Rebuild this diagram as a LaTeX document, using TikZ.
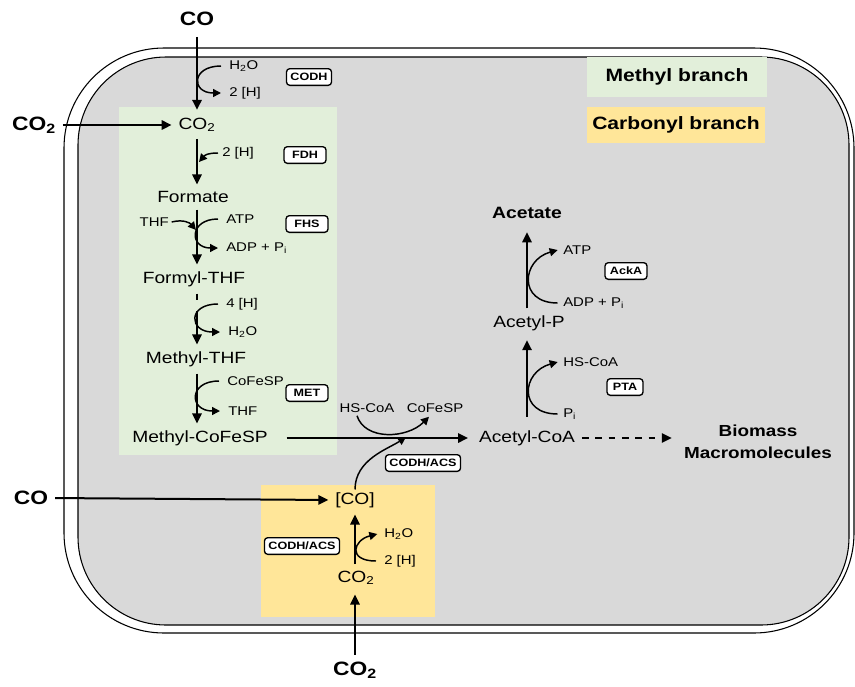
\documentclass[tikz,border=0pt]{standalone}
\usepackage{fontspec}
\setmainfont{Liberation Sans}[FakeStretch=1.18]
\usetikzlibrary{arrows.meta}

\definecolor{cellgray}{RGB}{217,217,217}
\definecolor{methylgreen}{RGB}{226,239,218}
\definecolor{carbonylyellow}{RGB}{255,230,153}

\begin{document}
\begin{tikzpicture}[x=0.75pt,y=-0.75pt,
  met/.style={font=\fontsize{12.2}{14}\selectfont, inner sep=2pt},
  cof/.style={font=\fontsize{9.5}{11}\selectfont, inner sep=0pt, anchor=west},
  ext/.style={font=\bfseries\fontsize{14.5}{17}\selectfont, inner sep=2pt},
  enz/.style={draw, line width=1pt, rounded corners=2.5pt, fill=white,
    font=\bfseries\fontsize{8}{9}\selectfont, minimum width=31.5pt,
    minimum height=12.5pt, inner xsep=3pt, inner ysep=1pt},
  legend/.style={font=\bfseries\fontsize{13.4}{16}\selectfont, inner sep=0pt},
  flux/.style={line width=1.5pt, -{Triangle[length=7.5pt,width=7pt]},
    shorten >=3pt, shorten <=3pt},
  side/.style={line width=1.1pt, -{Triangle[length=6pt,width=6pt]}}
]
\useasboundingbox (0,0) rectangle (855,686);

% cell wall and cytoplasm
\draw[line width=0.8pt, rounded corners=75pt] (64,48) rectangle (854,633);
\draw[line width=0.8pt, rounded corners=66pt, fill=cellgray] (78,57) rectangle (849,625);

% branch areas
\fill[methylgreen] (119,107) rectangle (337,455);
\fill[carbonylyellow] (261,485) rectangle (435,617);

% legend
\node[legend, fill=methylgreen, minimum width=135pt, minimum height=30pt] (lgmethyl) at (677,77) {Methyl branch};
\node[legend, fill=carbonylyellow, minimum width=134pt, minimum height=27pt] (lgcarbonyl) at (676,125) {Carbonyl branch};

% axes of the three pathways
\coordinate (axisM) at (197,0);
\coordinate (axisC) at (355,0);
\coordinate (axisA) at (527,0);

% substrates from outside
\node[ext] (coT) at (197,19) {CO};
\node[ext] (co2L) at (34,125) {CO\textsubscript{2}};
\node[ext] (coL) at (31,498) {CO};
\node[ext] (co2B) at (355,670) {CO\textsubscript{2}};

% methyl branch
\node[met] (co2a) at (197,125) {CO\textsubscript{2}};
\node[met] (formate) at (193,197) {Formate};
\node[met] (formyl) at (194,279) {Formyl-THF};
\node[met] (methylthf) at (196,359) {Methyl-THF};
\node[met] (methylco) at (200,438) {Methyl-CoFeSP};

% carbonyl branch
\node[met] (coC) at (355,500) {[CO]};
\node[met] (co2b) at (356,578) {CO\textsubscript{2}};

% acetate side
\node[met] (acoa) at (527,438) {Acetyl-CoA};
\node[met] (acp) at (529,323) {Acetyl-P};
\node[met, font=\bfseries\fontsize{12.3}{14}\selectfont] (acetate) at (527,213) {Acetate};
\node[met, font=\bfseries\fontsize{12}{16.5}\selectfont, align=center] (biomass) at (758,442) {Biomass\\Macromolecules};

% cofactors
\node[cof] (h2oA) at (229,66) {H\textsubscript{2}O};
\node[cof] (twoHa) at (229,93) {2 [H]};
\node[cof] (twoHb) at (222,153) {2 [H]};
\node[cof, anchor=east] (thfA) at (169,222) {THF};
\node[cof] (atpA) at (226,219) {ATP};
\node[cof] (adpA) at (226,248) {ADP + P\textsubscript{i}};
\node[cof] (fourH) at (226,304) {4 [H]};
\node[cof] (h2oB) at (228,332) {H\textsubscript{2}O};
\node[cof] (cofespA) at (227,381) {CoFeSP};
\node[cof] (thfB) at (228,411) {THF};
\node[cof, anchor=center] (hscoaA) at (367,408) {HS-CoA};
\node[cof, anchor=center] (cofespB) at (435,408) {CoFeSP};
\node[cof] (piA) at (563,414) {P\textsubscript{i}};
\node[cof] (hscoaB) at (563,362) {HS-CoA};
\node[cof] (adpB) at (563,303) {ADP + P\textsubscript{i}};
\node[cof] (atpB) at (563,250) {ATP};
\node[cof] (h2oC) at (384,534) {H\textsubscript{2}O};
\node[cof] (twoHc) at (384,561) {2 [H]};

% enzymes
\node[enz] (codh) at (309,77) {CODH};
\node[enz] (fdh) at (305,155) {FDH};
\node[enz] (fhs) at (307,224) {FHS};
\node[enz] (metase) at (307,393) {MET};
\node[enz] (acs) at (423,463) {CODH/ACS};
\node[enz] (acsB) at (302,546) {CODH/ACS};
\node[enz] (acka) at (626,271) {AckA};
\node[enz, minimum width=27pt] (pta) at (625,387) {PTA};

% main fluxes
\draw[flux, shorten <=6pt, shorten >=4pt] (coT.south -| axisM) -- (co2a.north -| axisM);
\draw[flux] (co2L.east) -- (co2a.west);
\draw[flux] (co2a.south -| axisM) -- (formate.north -| axisM);
\draw[flux] (formate.south -| axisM) -- (formyl.north -| axisM);
\draw[flux, dash pattern=on 5pt off 8pt on 40pt] (formyl.south -| axisM) -- (methylthf.north -| axisM);
\draw[flux] (methylthf.south -| axisM) -- (methylco.north -| axisM);
\draw[flux, shorten <=12pt, shorten >=6pt] (methylco.east) -- (acoa.west);
\draw[flux] (coL.east) -- (coC.west);
\draw[flux, shorten >=5pt] (co2B.north -| axisC) -- (co2b.south -| axisC);
\draw[flux] (co2b.north -| axisC) -- (coC.south -| axisC);
\draw[flux, shorten <=8pt, shorten >=5pt] (acoa.north -| axisA) -- (acp.south -| axisA);
\draw[flux, shorten <=3pt, shorten >=8pt] (acp.north -| axisA) -- (acetate.south -| axisA);
\draw[flux, dash pattern=on 5pt off 5pt, shorten >=7pt] (acoa.east) -- (acoa.east -| biomass.west);

% side reactions
\coordinate (fdhIn) at (199,162);
\coordinate (thfIn) at (196,230);
\coordinate (acsIn) at (406,437);
\draw[side] ([xshift=-6pt]h2oA.west) .. controls +(-30,0) and +(-30,0) .. ([xshift=-6pt]twoHa.west);
\draw[side] ([xshift=-3pt]twoHb.west) .. controls +(-10,0) and +(6,-7) .. (fdhIn);
\draw[side] ([xshift=2pt]thfA.east) .. controls +(12,-3) and +(-6,-7) .. (thfIn);
\draw[side] ([xshift=-6pt]atpA.west) .. controls +(-29,0) and +(-29,0) .. ([xshift=-6pt]adpA.west);
\draw[side] ([xshift=-6pt]fourH.west) .. controls +(-31,0) and +(-31,0) .. ([xshift=-6pt]h2oB.west);
\draw[side] ([xshift=-6pt]cofespA.west) .. controls +(-31,0) and +(-31,0) .. ([xshift=-6pt]thfB.west);
\draw[side] ([xshift=-4pt]piA.west) .. controls +(-40,0) and +(-36,10) .. ([xshift=-4pt]hscoaB.west);
\draw[side] ([xshift=-4pt]adpB.west) .. controls +(-40,0) and +(-36,10) .. ([xshift=-4pt]atpB.west);
\draw[side] ([xshift=-6pt]twoHc.west) .. controls +(-29,0) and +(-24,6) .. ([xshift=-5pt]h2oC.west);
\draw[side] ([shift={(-10,3)}]hscoaA.south) .. controls +(8,25) and +(-22,22) .. ([shift={(-6,4)}]cofespB.south);
\draw[side] (coC.north) .. controls +(0,-30) and +(-18,12) .. (acsIn);

\end{tikzpicture}
\end{document}
